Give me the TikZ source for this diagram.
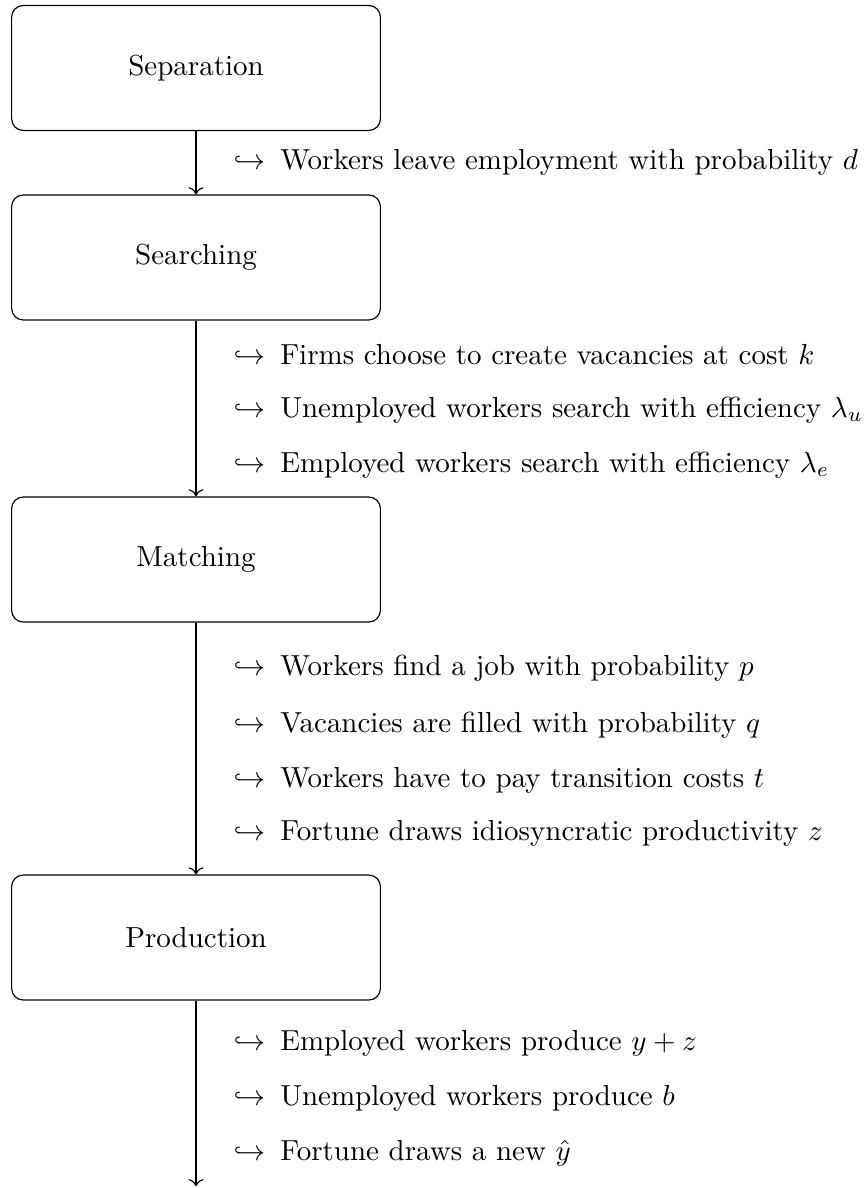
\documentclass[tikz,border=0pt]{standalone}
\usepackage{amsmath, amssymb}
\usepackage{tikz}
\usetikzlibrary{arrows.meta, calc, positioning}

\begin{document}
\begin{tikzpicture}[
		stage/.style={rectangle, rounded corners, draw, minimum width=4.47cm, minimum height=1.515cm, inner sep=0pt},
		item/.style={anchor=west},
		->
		]
		\useasboundingbox (0,0) rectangle (10.509,-14.4);

		% --- etapes ---
		\node[stage] (sep) at (2.376,-0.824) {Separation};
		\node[stage] (sea) at (2.376,-3.121) {Searching};
		\node[stage] (mat) at (2.376,-6.782) {Matching};
		\node[stage] (pro) at (2.376,-11.364) {Production};
		\coordinate (fin) at (2.376,-14.38);

		\draw (sep) -- (sea);
		\draw (sea) -- (mat);
		\draw (mat) -- (pro);
		\draw (pro) -- (fin);

		% --- evenements entre les etapes ---
		\node[item] (d1) at (2.707,-1.964) {$\hookrightarrow$\enspace Workers leave employment with probability $d$};

		\node[item] (k1) at (2.707,-4.303) {$\hookrightarrow$\enspace Firms choose to create vacancies at cost $k$};
		\node[item] (k2) at (2.707,-4.970) {$\hookrightarrow$\enspace Unemployed workers search with efficiency $\lambda_u$};
		\node[item] (k3) at (2.707,-5.636) {$\hookrightarrow$\enspace Employed workers search with efficiency $\lambda_e$};

		\node[item] (p1) at (2.707,-8.097) {$\hookrightarrow$\enspace Workers find a job with probability $p$};
		\node[item] (p2) at (2.707,-8.788) {$\hookrightarrow$\enspace Vacancies are filled with probability $q$};
		\node[item] (p3) at (2.707,-9.455) {$\hookrightarrow$\enspace Workers have to pay transition costs $t$};
		\node[item] (p4) at (2.707,-10.097) {$\hookrightarrow$\enspace Fortune draws idiosyncratic productivity $z$};

		\node[item] (y1) at (2.707,-12.642) {$\hookrightarrow$\enspace Employed workers produce $y+z$};
		\node[item] (y2) at (2.707,-13.309) {$\hookrightarrow$\enspace Unemployed workers produce $b$};
		\node[item] (y3) at (2.707,-13.976) {$\hookrightarrow$\enspace Fortune draws a new $\hat{y}$};

	\end{tikzpicture}
\end{document}
